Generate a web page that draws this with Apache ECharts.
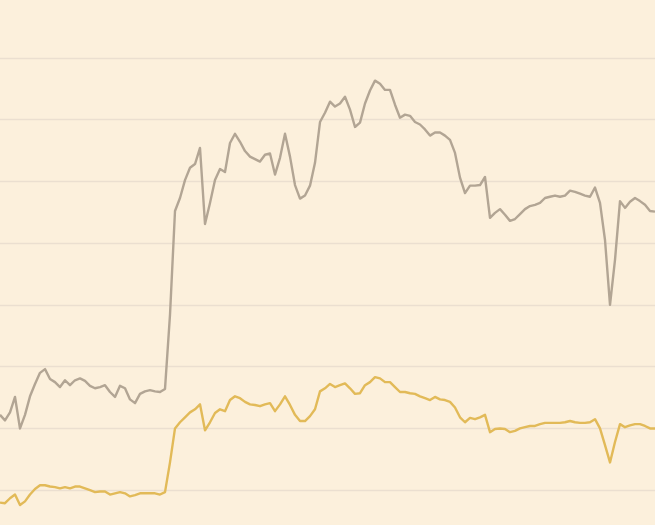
<!DOCTYPE html>
<html>
<head>
<meta charset="utf-8">
<script src="https://cdn.jsdelivr.net/npm/echarts@6/dist/echarts.min.js"></script>
<style>
html,body{margin:0;padding:0;background:#fcf0dc;overflow:hidden;width:655px;height:525px;}
#chart{position:absolute;left:0;top:-4px;width:655px;height:556px;}
</style>
</head>
<body>
<div id="chart"></div>
<script>
const greySeries = [
22.2,21.3,22.6,25.1,20.0,22.2,25.2,27.2,29.0,29.6,
28.0,27.5,26.7,27.8,27.0,27.8,28.1,27.7,26.9,26.5,
26.7,27.0,25.9,25.1,26.9,26.5,24.7,24.1,25.6,26.0,
26.2,26.0,25.9,26.4,38.4,55.2,57.3,60.2,62.2,62.8,
65.4,53.1,56.5,60.2,62.0,61.5,66.2,67.7,66.4,64.9,
64.0,63.6,63.2,64.3,64.5,61.1,63.8,67.7,64.0,59.4,
57.2,57.7,59.3,63.0,69.6,71.1,72.9,72.1,72.6,73.7,
71.6,68.8,69.5,72.6,74.7,76.3,75.8,74.8,74.8,72.4,
70.3,70.8,70.6,69.6,69.2,68.4,67.4,67.9,67.9,67.4,
66.7,64.6,60.6,58.1,59.3,59.3,59.4,60.7,54.1,54.9,
55.5,54.6,53.6,53.9,54.7,55.5,56.0,56.2,56.5,57.3,
57.5,57.7,57.5,57.7,58.5,58.3,58.0,57.7,57.5,59.0,
56.5,50.5,40.0,47.3,56.8,55.7,56.7,57.3,56.8,56.2,
55.2,55.1
];
const yellowSeries = [
8.0,7.9,8.7,9.3,7.6,8.2,9.3,10.2,10.8,10.8,
10.6,10.5,10.3,10.5,10.3,10.6,10.6,10.3,10.0,9.7,
9.8,9.8,9.3,9.5,9.7,9.5,9.0,9.2,9.5,9.5,
9.5,9.5,9.3,9.7,14.5,20.0,21.0,21.8,22.6,23.1,
23.9,19.7,21.0,22.5,23.1,22.8,24.6,25.2,24.9,24.3,
23.9,23.8,23.6,23.9,24.1,22.8,23.9,25.2,23.8,22.2,
21.2,21.2,22.0,23.1,26.0,26.5,27.2,26.7,27.0,27.3,
26.5,25.6,25.7,27.0,27.5,28.3,28.1,27.5,27.5,26.7,
25.9,25.9,25.7,25.6,25.2,24.9,24.6,25.1,24.7,24.6,
24.3,23.4,21.8,21.0,21.7,21.5,21.8,22.2,19.4,19.9,
20.0,19.9,19.4,19.6,20.0,20.2,20.4,20.4,20.7,20.9,
20.9,20.9,20.9,21.0,21.2,21.0,20.9,20.9,21.0,21.5,
20.0,17.3,14.5,17.8,20.7,20.2,20.5,20.7,20.7,20.4,
20.0,20.0
];
const categories = greySeries.map((_, i) => String(i));
const yTicks = [0, 10, 20, 30, 40, 50, 60, 70, 80, 90];

const chart = echarts.init(document.getElementById('chart'), null, {renderer: 'canvas'});
chart.setOption({
  backgroundColor: '#fcf0dc',
  animation: false,
  grid: {left: 0, right: 0, top: 0, bottom: 0, containLabel: false},
  xAxis: {
    type: 'category',
    data: categories,
    boundaryGap: false,
    axisLine: {show: false},
    axisTick: {show: false},
    axisLabel: {show: false},
    splitLine: {show: false}
  },
  yAxis: {
    type: 'value',
    min: yTicks[0],
    max: yTicks[yTicks.length - 1],
    interval: 10,
    axisLine: {show: false},
    axisTick: {show: false},
    axisLabel: {show: false},
    splitLine: {show: true, lineStyle: {color: '#ebdfd0', width: 1.3}}
  },
  series: [
    {
      name: 'grey',
      type: 'line',
      data: greySeries,
      showSymbol: false,
      symbol: 'none',
      lineStyle: {color: '#b2a594', width: 2.4, join: 'round'},
      z: 3
    },
    {
      name: 'yellow',
      type: 'line',
      data: yellowSeries,
      showSymbol: false,
      symbol: 'none',
      lineStyle: {color: '#e2ba58', width: 2.4, join: 'round'},
      z: 2
    }
  ]
});
</script>
</body>
</html>
